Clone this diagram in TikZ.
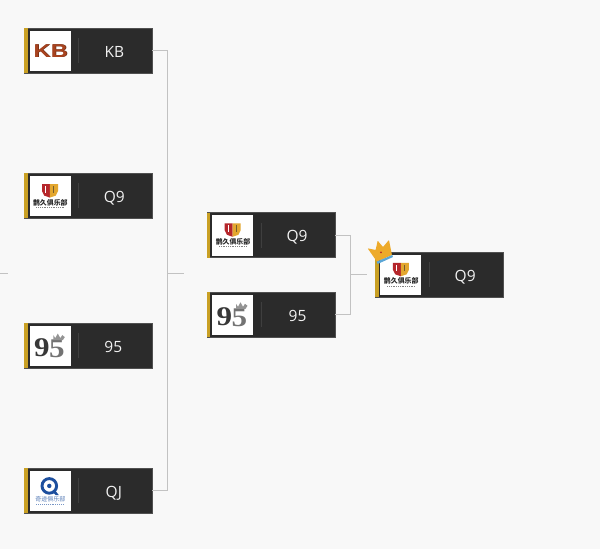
\documentclass[tikz,border=0pt]{standalone}
\usepackage{fontspec}
\setmainfont{Open Sans}
\newfontfamily\cjkfont{Noto Sans CJK SC}
\newfontfamily\digitfont{Liberation Serif}
\newfontfamily\kbfont{Liberation Sans}
\definecolor{pagebg}{HTML}{F8F8F8}
\definecolor{cardbg}{HTML}{2B2B2B}
\definecolor{cardedge}{HTML}{505050}
\definecolor{goldbar}{HTML}{C9A024}
\definecolor{sepline}{HTML}{3F3F3F}
\definecolor{linkgrey}{HTML}{C2C2C2}
\definecolor{shieldred}{HTML}{B5262B}
\definecolor{shieldgold}{HTML}{E3A72F}
\definecolor{kbbrown}{HTML}{A8431F}
\definecolor{qblue}{HTML}{1D4F9E}
\definecolor{crowngold}{HTML}{EDAA2A}
\definecolor{crownblue}{HTML}{5BA6D6}
\tikzset{
  card/.style={draw=cardedge,line width=.5pt,fill=cardbg,rectangle,anchor=north west,minimum width=128pt,minimum height=45pt,inner sep=0pt,outer sep=0pt},
  cardlabel/.style={text=white!95!black,font=\fontsize{15.5}{15.5}\selectfont,anchor=base,inner sep=0pt},
  link/.style={draw=linkgrey,line width=.9pt},
  logotext/.style={inner sep=0pt,anchor=center}
}
\newcommand{\logoKB}[1]{%
  \node[logotext,text=black!55!kbbrown,xscale=1.28] (#1-kbs) at (22,-20.8) {\kbfont\bfseries\fontsize{18.5}{18.5}\selectfont KB};
  \node[logotext,text=kbbrown,xscale=1.28] (#1-kb) at (21.5,-20.5) {\kbfont\bfseries\fontsize{18.5}{18.5}\selectfont KB};
}
\newcommand{\logoQnine}[1]{%
  \fill[shieldred] (12.7,-8.5) -- (20.6,-8.5) -- (20.6,-22) -- (15,-20) -- (12.7,-15.5) -- cycle;
  \fill[shieldgold] (20.6,-8.5) -- (28.7,-8.5) -- (28.7,-15.5) -- (26.4,-20) -- (20.6,-22) -- cycle;
  \draw[white,line width=.9pt] (16.6,-10.5) -- (16.6,-17);
  \draw[cardbg!60!shieldgold,line width=.9pt] (24.6,-10.5) -- (24.6,-17);
  \node[logotext,text=black!85] (#1-cn) at (21,-27) {\cjkfont\bfseries\fontsize{6.9}{6.9}\selectfont 鹊久俱乐部};
  \draw[black!50,line width=.7pt,dash pattern=on .9pt off .9pt] (7,-32) -- (35,-32);
}
\newcommand{\logoNF}[1]{%
  \node[logotext,text=black!78,xscale=1.15] (#1-nine) at (12.5,-22) {\digitfont\bfseries\fontsize{27}{27}\selectfont 9};
  \node[logotext,text=black!55,xscale=1.15] (#1-five) at (27.5,-23) {\digitfont\bfseries\fontsize{27}{27}\selectfont 5};
  \fill[black!42] (24,-14.5) -- (24,-9.5) -- (26,-12.5) -- (28.5,-8) -- (31,-12.5) -- (33,-9.5) -- (35.5,-11.5) -- (33.5,-14.5) -- cycle;
}
\newcommand{\logoQJ}[1]{%
  \draw[qblue,line width=2.9pt] (20,-15.3) circle (7.3);
  \fill[qblue] (20,-15.3) circle (2.2);
  \fill[qblue] (22.5,-21) -- (26,-20) -- (29.5,-24.5) -- (26.5,-24.5) -- cycle;
  \node[logotext,text=qblue!75!white] (#1-cn) at (21,-28.6) {\cjkfont\fontsize{6}{6}\selectfont 奇迹俱乐部};
  \draw[qblue!60!white,line width=.6pt,dash pattern=on .9pt off 1pt] (7,-33.5) -- (35,-33.5);
}
\newcommand{\teamcard}[6]{%
  \node[card] (#1) at (#2,-#3) {};
  \begin{scope}[shift={(#2,-#3)}]
    \fill[goldbar] (0,0) rectangle (3.3,-45);
    \node[rectangle,fill=white,anchor=north west,minimum width=41pt,minimum height=40.5pt,inner sep=0pt] (#1-logo) at (5,-2.3) {};
    \begin{scope}[shift={(5,-2.3)}]
      #6{#1}
    \end{scope}
    \draw[sepline,line width=.7pt] (54,-10) -- (54,-35);
    \node[cardlabel] (#1-label) at (#5,-29) {#4};
  \end{scope}
}
\begin{document}
\begin{tikzpicture}[x=1pt,y=1pt]
  \useasboundingbox (0,0) rectangle (600,-549);
  \fill[pagebg] (0,0) rectangle (600,-549);
  \teamcard{a}{24.3}{28.3}{KB}{90}{\logoKB}
  \teamcard{b}{24.3}{173.3}{Q9}{90}{\logoQnine}
  \teamcard{c}{24.3}{323.3}{95}{89}{\logoNF}
  \teamcard{d}{24.3}{468.3}{QJ}{89.5}{\logoQJ}
  \teamcard{e}{207}{212.5}{Q9}{90}{\logoQnine}
  \teamcard{f}{207}{292}{95}{90.5}{\logoNF}
  \teamcard{g}{375.2}{252}{Q9}{90}{\logoQnine}
  % connectors
  \coordinate (j1) at (167.5,-273.5);
  \coordinate (j1out) at (184,-273.5);
  \coordinate (in0) at (0,-273.5);
  \coordinate (in1) at (7.5,-273.5);
  \coordinate (j2) at (350,-274.5);
  \coordinate (j2out) at (366.7,-274.5);
  \draw[link] (a.east) -| (j1);
  \draw[link] (d.east) -| (j1);
  \draw[link] (j1) -- (j1out);
  \draw[link] (in0) -- (in1);
  \draw[link] (e.east) -| (j2);
  \draw[link] (f.east) -| (j2);
  \draw[link] (j2) -- (j2out);
  % crown
  \begin{scope}[shift={(200,-205)},x=.3333pt,y=-.3333pt]
    \fill[crowngold,rounded corners=.6pt] (503,130) -- (527,135) -- (533,107) -- (549,126) -- (567,105) -- (576,150) -- (531,170) -- cycle;
    \fill[crownblue] (530,170) -- (577,150) -- (579,156) -- (533,177) -- cycle;
    \fill[shieldred] (543,142) circle (3);
  \end{scope}
\end{tikzpicture}
\end{document}
